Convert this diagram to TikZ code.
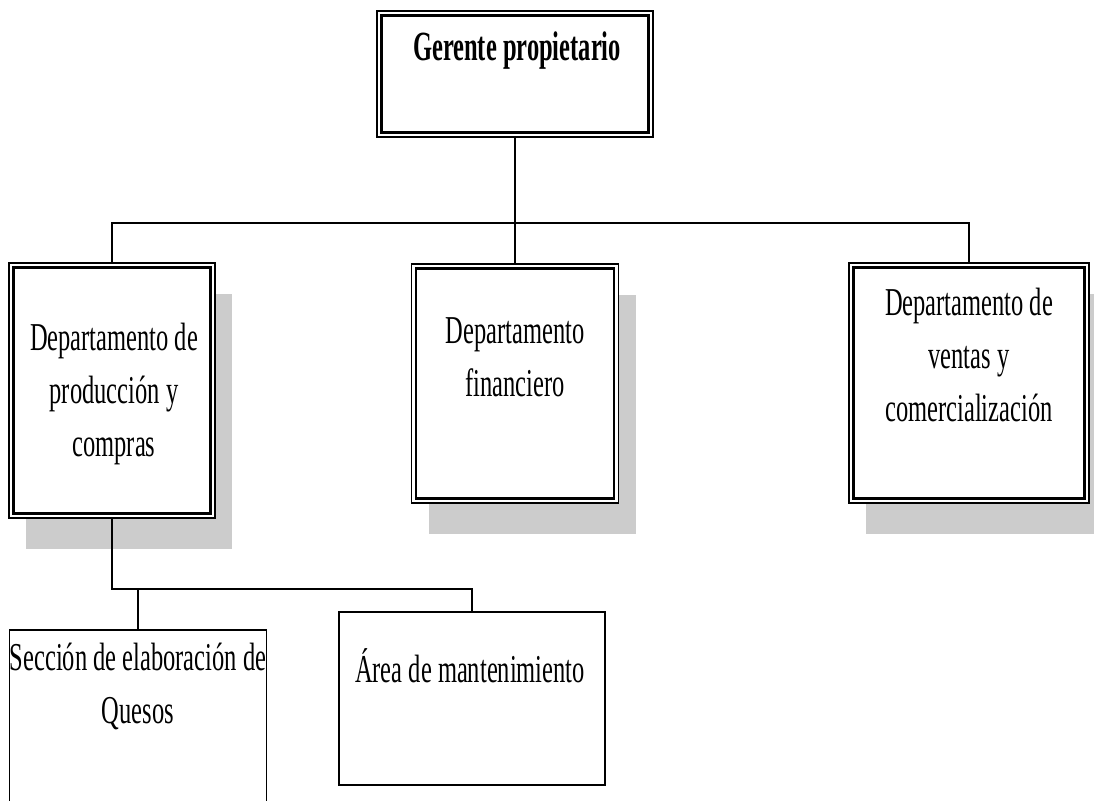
\documentclass[tikz,border=0pt]{standalone}
\usepackage{fontspec}
\setmainfont{Liberation Serif}[FakeStretch=0.62]
\newfontfamily\titlefont{Liberation Serif}[FakeStretch=0.59]
\usetikzlibrary{shadows}

\tikzset{
  x=1pt, y=-1pt,
  conn/.style={line width=1.4pt},
  dblbox/.style={draw, fill=white, line width=1.3pt, inner sep=0pt},
  innerline/.style={line width=2.6pt},
  shadowed/.style={general shadow={fill=black!20, shadow xshift=17pt, shadow yshift=-31pt}},
  plainbox/.style={draw, fill=white, line width=1.8pt, inner sep=0pt},
  lbl/.style={font=\fontsize{39.5}{53}\selectfont, align=center, anchor=base, inner sep=0pt},
  ttl/.style={font=\titlefont\bfseries\fontsize{41.5}{52}\selectfont, anchor=base, inner sep=0pt},
}

\begin{document}
\begin{tikzpicture}
\useasboundingbox (0,0) rectangle (1094,800);
\clip (0,0) rectangle (1094,800);

% boxes
\node[dblbox, minimum width=276pt, minimum height=126pt] (gerente) at (515,74) {};
\node[dblbox, shadowed, minimum width=206pt, minimum height=255pt] (prod) at (112,390.5) {};
\node[dblbox, shadowed, minimum width=207pt, minimum height=239pt] (fin) at (515,383.5) {};
\node[dblbox, shadowed, minimum width=240pt, minimum height=240pt] (ventas) at (969,383) {};
\node[plainbox, minimum width=257pt, minimum height=200pt] (quesos) at (138,730) {};
\node[plainbox, minimum width=266pt, minimum height=173pt] (mant) at (472,698.5) {};

% thick inner frame of the double-ruled boxes
\foreach \n in {gerente,prod,fin,ventas}
  \draw[innerline] ([shift={(5,-5)}]\n.south west) rectangle ([shift={(-5,5)}]\n.north east);

% texts (anchored at the baseline of their last line)
\node[ttl] (tg) at (517,60) {Gerente propietario};
\node[lbl] (tp) at (114,456) {Departamento de\\producción y\\compras};
\node[lbl] (tf) at (515,396) {Departamento\\financiero};
\node[lbl] (tv) at (969,421) {Departamento de\\ventas y\\comercialización};
\node[lbl] (tq) at (138,723) {Sección de elaboración de\\Quesos};
\node[lbl] (tm) at (470,682) {Área de mantenimiento};

% connectors
\coordinate (bus) at (515,223);
\coordinate (bus2) at (112,589);
\draw[conn] (gerente.south) -- (bus);
\draw[conn] (prod.north) |- (bus) -| (ventas.north);
\draw[conn] (bus) -- (fin.north);
\draw[conn] (prod.south) -- (bus2) -| (mant.north);
\draw[conn] (quesos.north) -- (quesos.north |- bus2);
\end{tikzpicture}
\end{document}
